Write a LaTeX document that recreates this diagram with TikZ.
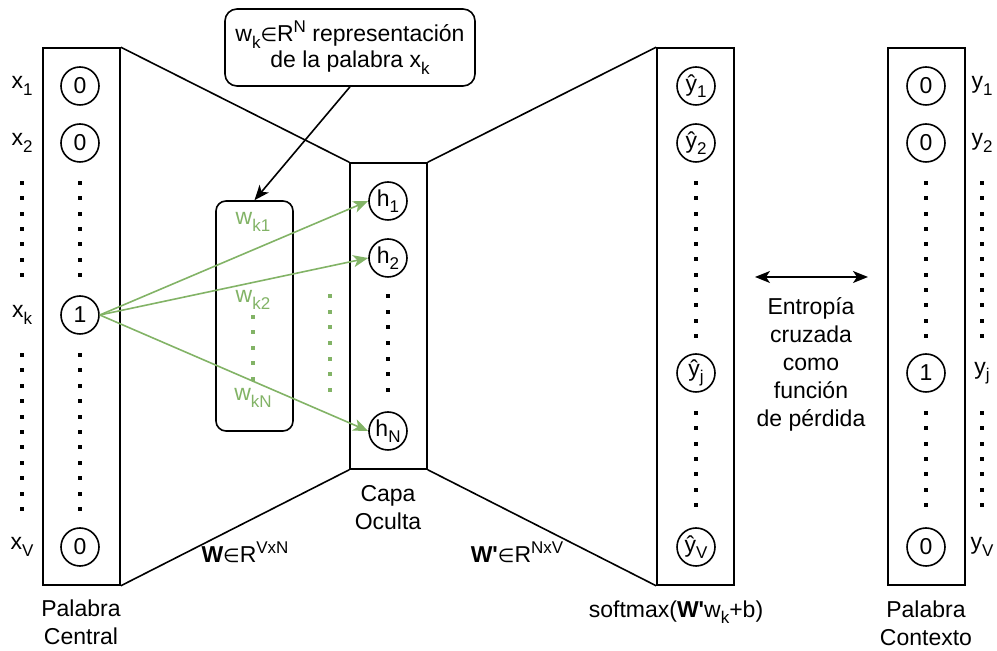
\documentclass[tikz,border=0pt]{standalone}
\usepackage{fontspec}
\setmainfont{Liberation Sans}
\newfontfamily\symfont{DejaVu Sans}
\usetikzlibrary{arrows.meta}
\definecolor{leaf}{HTML}{82B366}
\newcommand\elem{{\symfont\fontsize{9.5}{11}\selectfont ∈}}
\newcommand\lo[1]{\raisebox{-3.3pt}{\fontsize{8.5}{10}\selectfont #1}}
\newcommand\hi[1]{\raisebox{4.7pt}{\fontsize{8.5}{10}\selectfont #1}}
\newcommand\sq[2]{\fill[#2] (#1) ++(-2,-2) rectangle ++(4,4);}
\begin{document}
\begin{tikzpicture}[x=0.5pt,y=-0.5pt,
  font=\fontsize{11.5}{14}\selectfont,
  layer/.style={draw, line width=0.8pt, inner sep=0pt, minimum width=38.5pt},
  unit/.style={draw, circle, line width=0.8pt, minimum size=19pt, inner sep=0pt},
  edge/.style={line width=0.8pt},
  tip/.style={-{Stealth[length=7.5pt,width=6pt,inset=2pt]}},
  wlink/.style={draw=leaf, line width=0.8pt, -{Stealth[length=7.5pt,width=6pt,inset=2pt,fill=leaf]}},
  lbl/.style={align=center, inner sep=0pt}]
\useasboundingbox (0,0) rectangle (997,651);

% layers
\node[layer, minimum height=268.5pt] (inbox) at (81.5,316.5) {};
\node[layer, minimum height=153pt] (hidbox) at (388.5,316) {};
\node[layer, minimum height=268.5pt] (outbox) at (695.5,316.5) {};
\node[layer, minimum height=268.5pt] (ctxbox) at (926.5,316.5) {};
\node[layer, minimum height=115pt, rounded corners=5pt] (wbox) at (254.5,316) {};
\node[draw, line width=0.8pt, rounded corners=6pt, minimum width=125pt, minimum height=38.5pt, align=center, inner sep=0pt] (note) at (350,47.5)
  {w\lo{k}\elem R\hi{N} representación\\[-1pt]de la palabra x\lo{k}};

% projection outlines
\draw[edge] (inbox.north east) -- (hidbox.north west);
\draw[edge] (inbox.south east) -- (hidbox.south west);
\draw[edge] (hidbox.north east) -- (outbox.north west);
\draw[edge] (hidbox.south east) -- (outbox.south west);

% input units
\node[unit] (x1) at (80,86) {0};
\node[unit] (x2) at (80,143) {0};
\node[unit] (xk) at (80,315) {1};
\node[unit] (xV) at (80,547) {0};
\node[lbl] (lx1) at (22,86) {x\lo{1}};
\node[lbl] (lx2) at (22,143) {x\lo{2}};
\node[lbl] (lxk) at (22,315) {x\lo{k}};
\node[lbl] (lxV) at (22,547) {x\lo{V}};

% hidden units
\node[unit] (h1) at (388,201) {h\lo{1}};
\node[unit] (h2) at (388,258) {h\lo{2}};
\node[unit] (hN) at (388,431) {h\lo{N}};

% output units
\node[unit] (o1) at (696,86) {ŷ\lo{1}};
\node[unit] (o2) at (696,143) {ŷ\lo{2}};
\node[unit] (oj) at (696,373) {ŷ\lo{j}};
\node[unit] (oV) at (696,547) {ŷ\lo{V}};

% context units
\node[unit] (y1) at (926,86) {0};
\node[unit] (y2) at (926,143) {0};
\node[unit] (yj) at (926,373) {1};
\node[unit] (yV) at (926,547) {0};
\node[lbl] (ly1) at (982,86) {y\lo{1}};
\node[lbl] (ly2) at (982,143) {y\lo{2}};
\node[lbl] (lyj) at (982,373) {y\lo{j}};
\node[lbl] (lyV) at (982,547) {y\lo{V}};

% ellipsis dots
\foreach \x in {22,80} {
  \foreach \i in {0,...,6} {\sq{\x,183+15.33*\i}{black}}
  \foreach \i in {0,...,10} {\sq{\x,355+15.4*\i}{black}}
}
\foreach \i in {0,...,6} {\sq{388,296+15.67*\i}{black}\sq{330,296+15.67*\i}{leaf}}
\foreach \i in {0,...,4} {\sq{253,317+15.5*\i}{leaf}}
\foreach \x in {696,926,982} {
  \foreach \i in {0,...,10} {\sq{\x,183+15.3*\i}{black}}
  \foreach \i in {0,...,6} {\sq{\x,413+15.33*\i}{black}}
}

% weight labels
\node[lbl, text=leaf] (wk1) at (253,222) {w\lo{k1}};
\node[lbl, text=leaf] (wk2) at (253,300) {w\lo{k2}};
\node[lbl, text=leaf] (wkN) at (253,398) {w\lo{kN}};

% connections from the active input
\draw[wlink] (xk.east) -- (h1.west);
\draw[wlink] (xk.east) -- (h2.west);
\draw[wlink] (xk.east) -- (hN.west);
\draw[edge, tip] (note.south) -- (wbox.north);

% loss arrow
\coordinate (lossL) at (755,277);
\coordinate (lossR) at (868,277);
\draw[edge, {Stealth[length=7.5pt,width=6pt,inset=2pt]}-{Stealth[length=7.5pt,width=6pt,inset=2pt]}] (lossL) -- (lossR);
\node[lbl] (loss) at (811,364) {Entropía\\cruzada\\como\\función\\de pérdida};

% captions
\node[lbl] (capin) at (81,622) {Palabra\\Central};
\node[lbl] (caphid) at (388,508) {Capa\\Oculta};
\node[lbl] (capctx) at (926,623) {Palabra\\Contexto};
\node[lbl] (capW) at (245,552) {\textbf{W}\elem R\hi{VxN}};
\node[lbl] (capW2) at (517,552) {\textbf{W\textquotesingle}\elem R\hi{NxV}};
\node[lbl] (capout) at (676,612) {softmax(\textbf{W\textquotesingle}w\lo{k}+b)};
\end{tikzpicture}
\end{document}
